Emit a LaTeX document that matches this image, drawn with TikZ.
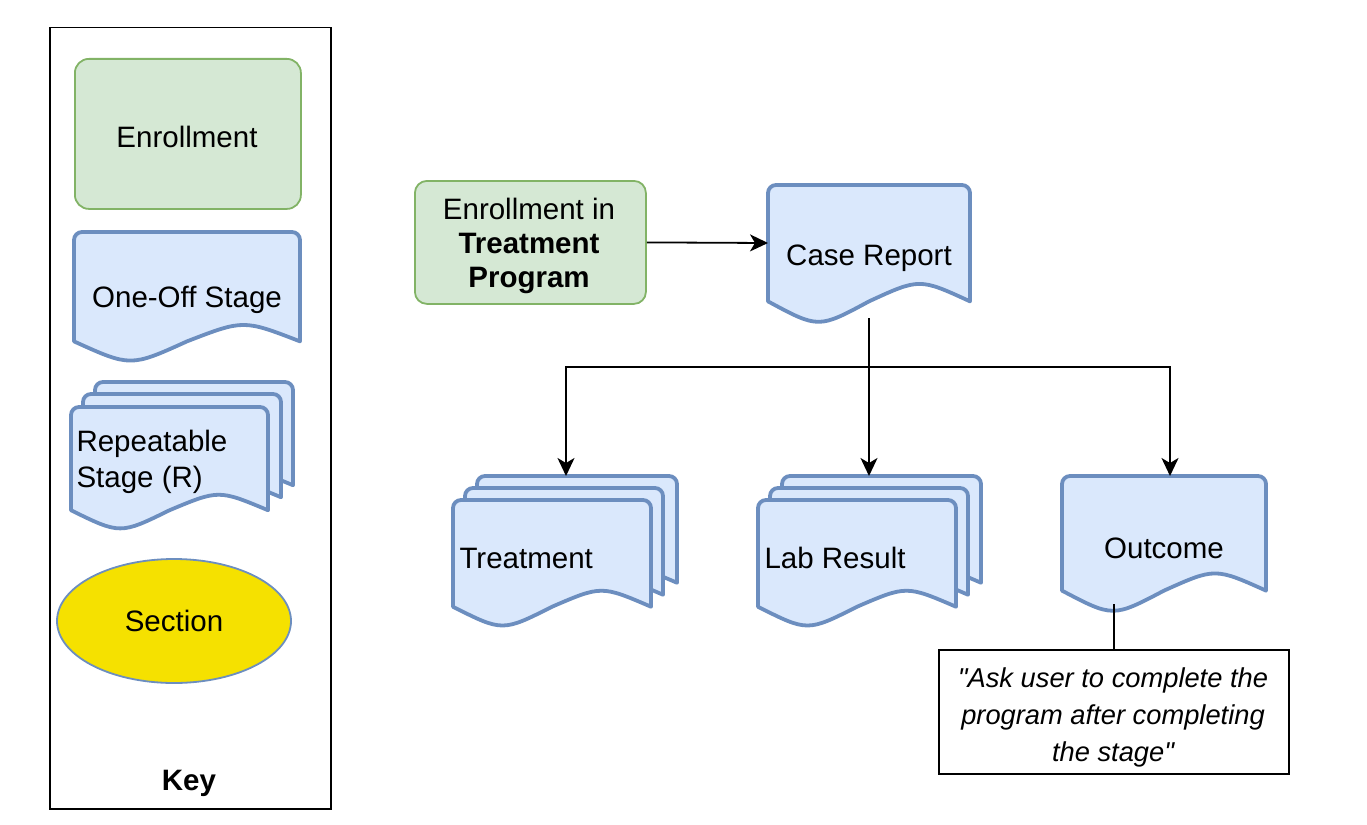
\documentclass[tikz,border=0pt]{standalone}
\usepackage{fontspec}
\setmainfont{Liberation Sans}[Ligatures=TeXOff]
\usetikzlibrary{shapes.geometric,arrows.meta}
\definecolor{bfill}{HTML}{DAE8FC}\definecolor{bline}{HTML}{6C8EBF}
\definecolor{gfill}{HTML}{D5E8D4}\definecolor{gline}{HTML}{82B366}
\definecolor{yfill}{HTML}{F5E100}
\newcommand\docpath[4]{%
 \filldraw[doc] (#1,#2+#4-#4*0.125) -- (#1,#2+8) arc[start angle=180,end angle=270,radius=8] -- (#1+#3-8,#2) arc[start angle=270,end angle=360,radius=8] -- (#1+#3,#2+#4-#4*0.125)
 .. controls (#1+0.75*#3,#2+#4-#4*0.3) .. (#1+0.5*#3,#2+#4-#4*0.125)
 .. controls (#1+0.25*#3,#2+#4+#4*0.08) .. (#1,#2+#4-#4*0.125) -- cycle;}
\begin{document}
\begin{tikzpicture}[x=1pt,y=-1pt,font=\fontsize{29.5}{34}\selectfont,
 doc/.style={draw=bline,fill=bfill,line width=3.8pt,line join=round},
 edge/.style={draw=black,line width=1.8pt,-{Stealth[length=18pt,width=17pt,inset=5pt]}}]
\useasboundingbox (0,0) rectangle (1367,824);
% key
\node[draw,line width=1.5pt,minimum width=281,minimum height=781,anchor=north west] (key) at (49,27) {};
\node[font=\fontsize{29.5}{34}\selectfont\bfseries] (keyt) at (189,783) {Key};
\node[draw=gline,fill=gfill,line width=1.8pt,rounded corners=14,minimum width=226,minimum height=150,anchor=north west] (ken) at (74,58) {};
\node (kent) at (187,137) {Enrollment};
\docpath{74}{232}{226}{125}
\node (kone) at (187,300) {One-Off Stage};
\docpath{95}{382}{198}{118}
\docpath{83}{394}{198}{118}
\docpath{71}{407}{197}{118}
\node[align=left,anchor=west] (krep) at (73,462) {Repeatable\\[2pt]Stage (R)};
\node[ellipse,draw=bline,fill=yfill,line width=1.8pt,minimum width=234,minimum height=124] (ksec) at (174,621) {Section};
% main
\node[draw=gline,fill=gfill,line width=1.8pt,rounded corners=12,minimum width=231,minimum height=123,anchor=north west] (enr) at (414,180) {};
\node[align=center] (enrt) at (529,246) {Enrollment in\\\textbf{Treatment}\\\textbf{Program}};
\docpath{768}{185}{202}{133}
\node (case) at (869,258) {Case Report};
\coordinate (caseb) at (869,318);
\docpath{477}{476}{200}{122}
\docpath{465}{488}{198}{122}
\docpath{453}{500}{198}{122}
\node[anchor=west] (treat) at (456,558) {Treatment};
\docpath{782}{476}{199}{122}
\docpath{770}{488}{198}{122}
\docpath{758}{500}{198}{122}
\node[anchor=west] (lab) at (761,558) {Lab Result};
\docpath{1062}{476}{204}{131}
\node (out) at (1164,548) {Outcome};
\coordinate (outb) at (1114,604);
\node[draw,line width=1.5pt,minimum width=350,minimum height=124,anchor=north west] (note) at (938,649) {};
\node[align=center,font=\fontsize{27.3}{37}\selectfont\itshape] (notet) at (1113,717) {"Ask user to complete the\\program after completing\\the stage"};
\coordinate (tt) at (566,476);\coordinate (lt) at (869,476);\coordinate (ot) at (1170,476);
\draw[edge] (enr.east) -- (768,243);
\draw[edge] (caseb) -- (869,367) -| (tt);
\draw[edge] (caseb) -- (lt);
\draw[edge] (869,367) -| (ot);
\draw[line width=1.8pt] (outb) -- (note.north -| outb);
\end{tikzpicture}
\end{document}
